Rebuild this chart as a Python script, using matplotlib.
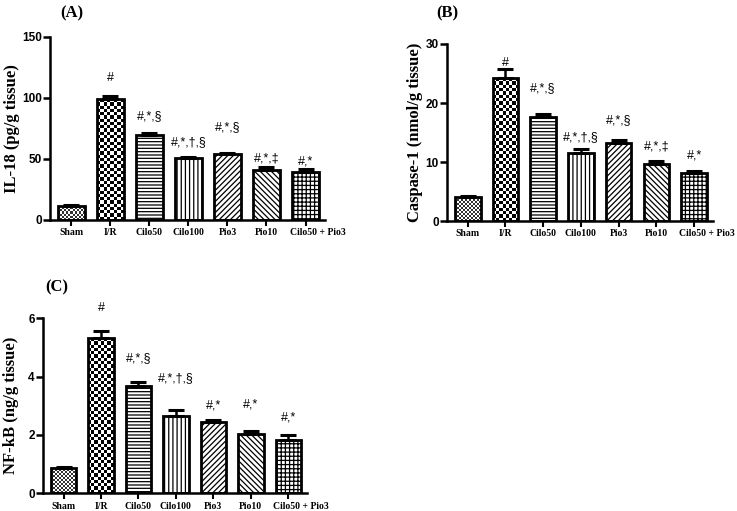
import numpy as np
import matplotlib.pyplot as plt
from matplotlib.colors import ListedColormap

plt.rcParams['font.family'] = 'Liberation Sans'
plt.rcParams['hatch.linewidth'] = 0.9

# Groups and values (mean, upper error)
groups = ['Sham', 'I/R', 'Cilo50', 'Cilo100', 'Pio3', 'Pio10', 'Cilo50 + Pio3']

il18_mean = [11.7, 98.9, 69.7, 50.5, 54.0, 41.0, 39.6]
il18_err = [0.8, 2.7, 1.3, 1.5, 1.0, 2.7, 1.9]
il18_marks = ['', '#', '#,*,§', '#,*,†,§', '#,*,§', '#,*,‡', '#,*']

casp_mean = [4.0, 24.2, 17.7, 11.6, 13.2, 9.7, 8.2]
casp_err = [0.2, 1.6, 0.5, 0.6, 0.6, 0.4, 0.3]
casp_marks = ['', '#', '#,*,§', '#,*,†,§', '#,*,§', '#,*,‡', '#,*']

nfkb_mean = [0.86, 5.31, 3.68, 2.66, 2.45, 2.05, 1.83]
nfkb_err = [0.05, 0.26, 0.12, 0.19, 0.05, 0.09, 0.17]
nfkb_marks = ['', '#', '#,*,§', '#,*,†,§', '#,*', '#,*', '#,*']

# fill style of each group: checker boards are drawn as images, the rest as hatches
hatches = [None, None, '-----', '||||', '//////', '\\\\\\\\\\\\', '++++']
checker_px = [2.0, 3.3, None, None, None, None, None]
checker_col = ['#333333', 'black', None, None, None, None, None]

serif = 'Liberation Serif'
W, H = 737, 511


def checker_fill(ax, bar, cell_px, dark):
    x0, y0 = bar.get_x(), bar.get_y()
    w, h = bar.get_width(), bar.get_height()
    (px0, py0), (px1, py1) = ax.transData.transform([(x0, y0), (x0 + w, y0 + h)])
    nx = max(1, int(round((px1 - px0) / cell_px)))
    ny = max(1, int(round((py1 - py0) / cell_px)))
    board = np.indices((ny, nx)).sum(axis=0) % 2
    img = ax.imshow(board, cmap=ListedColormap(['white', dark]),
                    extent=(x0, x0 + w, y0, y0 + h), origin='lower',
                    aspect='auto', interpolation='nearest', zorder=1.5)
    img.set_clip_path(bar)


def panel(fig, rect, mean, err, marks, ylim, yticks, ylabel, gaps, label_x):
    ax = fig.add_axes(rect)
    x = np.arange(len(groups))
    ax.set_xlim(-0.55, 6.5)
    ax.set_ylim(*ylim)

    faces = ['none' if c else 'white' for c in checker_px]
    bars = ax.bar(x, mean, width=0.68, color=faces, edgecolor='black',
                  linewidth=2.0, zorder=2)
    for bar, h in zip(bars, hatches):
        if h:
            bar.set_hatch(h)
    for bar, c, col in zip(bars, checker_px, checker_col):
        if c:
            checker_fill(ax, bar, c, col)

    ax.errorbar(x, mean, yerr=[np.zeros(len(err)), err], fmt='none',
                ecolor='black', elinewidth=1.8, capsize=5.5, capthick=2.2, zorder=3)

    for xi, m, e, s, g in zip(x, mean, err, marks, gaps):
        if s:
            ax.annotate(s, (xi, m + e), xytext=(0, g * 0.72), textcoords='offset points',
                        ha='center', va='center', fontsize=9)

    ax.set_xlim(-0.55, 6.5)
    ax.set_ylim(*ylim)
    ax.set_yticks(yticks)
    ax.set_xticks(x)
    # the long last label sits a little to the right in the original
    ax.set_xticklabels(groups[:-1] + [''], fontfamily=serif, fontweight='bold', fontsize=7)
    ax.annotate(groups[-1], (x[-1], 0), xycoords=('data', 'axes fraction'),
                xytext=(9, -6), textcoords='offset points', ha='center', va='top',
                fontfamily=serif, fontweight='bold', fontsize=7, annotation_clip=False)
    for lab in ax.get_yticklabels():
        lab.set_fontweight('bold')
        lab.set_fontsize(8.5)
    ax.tick_params(axis='y', length=5, width=1.8, pad=1)
    ax.tick_params(axis='x', length=4, width=1.5, pad=2)
    for side in ['top', 'right']:
        ax.spines[side].set_visible(False)
    for side in ['left', 'bottom']:
        ax.spines[side].set_linewidth(1.8)
    ax.set_ylabel(ylabel, fontfamily=serif, fontweight='bold', fontsize=12)
    ax.yaxis.set_label_coords(label_x / W, rect[1] + rect[3] / 2,
                              transform=fig.transFigure)
    return ax


fig = plt.figure(figsize=(W / 100, H / 100), dpi=100)

panel(fig, [0.0678, 0.5695, 0.3732, 0.3581], il18_mean, il18_err, il18_marks,
      (0, 150), [0, 50, 100, 150], 'IL-18 (pg/g tissue)',
      [0, 18, 17, 14, 26, 8, 8], 20)
panel(fig, [0.6065, 0.5675, 0.3609, 0.3464], casp_mean, casp_err, casp_marks,
      (0, 30), [0, 10, 20, 30], 'Caspase-1 (nmol/g tissue)',
      [0, 6, 26, 12, 19, 15, 15], 423)
panel(fig, [0.0583, 0.0346, 0.3582, 0.3425], nfkb_mean, nfkb_err, nfkb_marks,
      (0, 6), [0, 2, 4, 6], 'NF-kB (ng/g tissue)',
      [0, 23, 24, 32, 15, 26, 17], 19)

for txt, px, py in [('(A)', 72, 13), ('(B)', 447, 13), ('(C)', 57, 287)]:
    fig.text(px / W, 1 - py / H, txt, ha='center', va='center',
             fontfamily=serif, fontweight='bold', fontsize=12)

fig.savefig('out.png', dpi=100)
